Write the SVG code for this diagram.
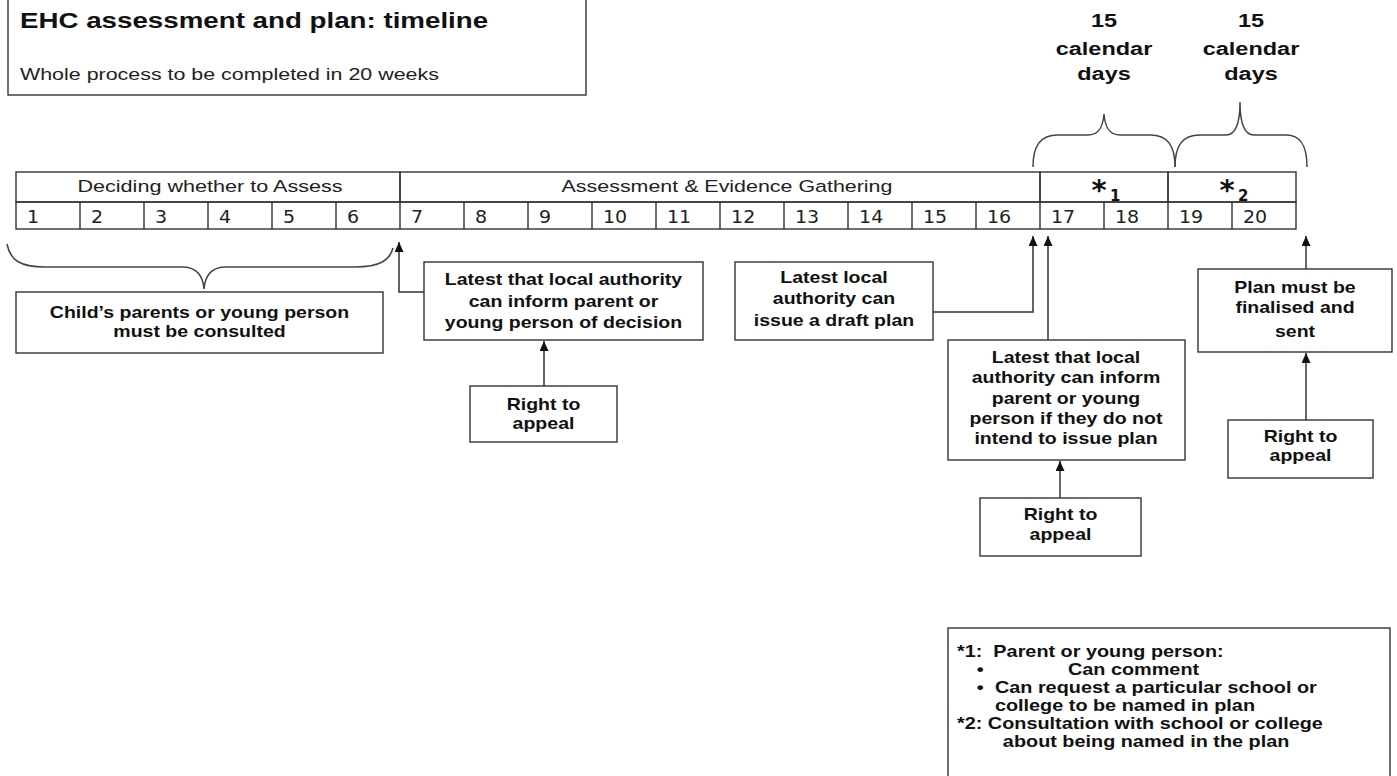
<svg xmlns="http://www.w3.org/2000/svg" width="1397" height="776" viewBox="0 0 1397 776">
<style>
.box{fill:#fff;stroke:#333;stroke-width:1.4}
.cell{fill:none;stroke:#333;stroke-width:1.4}
.bt{font-family:"Liberation Sans",Arial,sans-serif;font-weight:bold;font-size:16px;fill:#111;text-anchor:middle}
.lt{font-family:"Liberation Sans",Arial,sans-serif;font-weight:bold;font-size:16px;fill:#111}
.hd{font-family:"Liberation Sans",Arial,sans-serif;font-size:17px;fill:#222;text-anchor:middle}
.num{font-family:"DejaVu Sans",Verdana,sans-serif;font-size:17px;fill:#222}
.star{font-family:"DejaVu Sans",Verdana,sans-serif;font-weight:bold;fill:#111}
.top{font-family:"Liberation Sans",Arial,sans-serif;font-weight:bold;font-size:18.5px;fill:#111;text-anchor:middle}
.conn{fill:none;stroke:#333;stroke-width:1.5}
.brace{fill:none;stroke:#444;stroke-width:1.5}
</style>
<defs>
<marker id="ah" markerWidth="10" markerHeight="10" refX="10" refY="4.5" orient="auto" markerUnits="userSpaceOnUse">
<path d="M0,0 L10,4.5 L0,9 z" fill="#111"/>
</marker>
</defs>
<rect x="0" y="0" width="1397" height="776" fill="#fff"/>

<g id="title">
<rect class="box" x="8" y="-1" width="578" height="96"/>
<g transform="translate(20,0) scale(1.26,1)">
<text x="0" y="28" font-family="Liberation Sans, Arial, sans-serif" font-weight="bold" font-size="22" fill="#111">EHC assessment and plan: timeline</text>
<text x="0" y="80" font-family="Liberation Sans, Arial, sans-serif" font-size="17" fill="#222">Whole process to be completed in 20 weeks</text>
</g>
</g>

<g id="timeline">
<rect class="cell" x="16" y="172" width="384" height="30"/>
<rect class="cell" x="400" y="172" width="640" height="30"/>
<rect class="cell" x="1040" y="172" width="128" height="30"/>
<rect class="cell" x="1168" y="172" width="128" height="30"/>
<rect class="cell" x="16" y="202" width="1280" height="27"/>
<path class="cell" d="M80,202V229M144,202V229M208,202V229M272,202V229M336,202V229M400,202V229M464,202V229M528,202V229M592,202V229M656,202V229M720,202V229M784,202V229M848,202V229M912,202V229M976,202V229M1040,202V229M1104,202V229M1168,202V229M1232,202V229"/>
<g transform="translate(210,0) scale(1.27,1)"><text class="hd" x="0" y="192">Deciding whether to Assess</text></g>
<g transform="translate(727,0) scale(1.26,1)"><text class="hd" x="0" y="192">Assessment &amp; Evidence Gathering</text></g>
<text class="star" x="1099" y="200" font-size="29" text-anchor="middle">*</text>
<text class="star" x="1110" y="201" font-size="15">1</text>
<text class="star" x="1227" y="200" font-size="29" text-anchor="middle">*</text>
<text class="star" x="1238" y="201" font-size="15">2</text>
<g transform="scale(1.12,1)">
<text class="num" x="24.1" y="223">1</text>
<text class="num" x="81.25" y="223">2</text>
<text class="num" x="138.4" y="223">3</text>
<text class="num" x="195.5" y="223">4</text>
<text class="num" x="252.7" y="223">5</text>
<text class="num" x="309.8" y="223">6</text>
<text class="num" x="367" y="223">7</text>
<text class="num" x="424.1" y="223">8</text>
<text class="num" x="481.25" y="223">9</text>
<text class="num" x="538.4" y="223">10</text>
<text class="num" x="595.5" y="223">11</text>
<text class="num" x="652.7" y="223">12</text>
<text class="num" x="709.8" y="223">13</text>
<text class="num" x="767" y="223">14</text>
<text class="num" x="824.1" y="223">15</text>
<text class="num" x="881.25" y="223">16</text>
<text class="num" x="938.4" y="223">17</text>
<text class="num" x="995.5" y="223">18</text>
<text class="num" x="1052.7" y="223">19</text>
<text class="num" x="1109.8" y="223">20</text>
</g>
</g>

<g id="braces">
<path class="brace" d="M1033,167 C1033,146 1040,135 1058,135 L1088,135 C1099,135 1103,127 1104,114 C1105,127 1109,135 1120,135 L1150,135 C1168,135 1175,146 1175,167"/>
<path class="brace" d="M1175,167 C1175,146 1182,135 1200,135 L1226,135 C1236,135 1240,124 1240,102 C1240,124 1244,135 1254,135 L1286,135 C1301,135 1307,146 1307,167"/>
<path class="brace" d="M7,244 C10,260 20,267 45,267 L182,267 C197,267 203,276 204,289 C205,276 211,267 226,267 L355,267 C380,267 390,260 393,248"/>
</g>

<g id="label-days1" transform="translate(1104,0) scale(1.27,1)">
<text class="top" x="0" y="27">15</text>
<text class="top" x="0" y="55">calendar</text>
<text class="top" x="0" y="80">days</text>
</g>
<g id="label-days2" transform="translate(1251,0) scale(1.27,1)">
<text class="top" x="0" y="27">15</text>
<text class="top" x="0" y="55">calendar</text>
<text class="top" x="0" y="80">days</text>
</g>

<g id="consult">
<rect class="box" x="16" y="292" width="367" height="61"/>
<g transform="translate(199.5,0) scale(1.22,1)">
<text class="bt" x="0" y="318">Child’s parents or young person</text>
<text class="bt" x="0" y="337">must be consulted</text>
</g>
</g>

<g id="decision">
<rect class="box" x="424" y="262" width="279" height="78"/>
<g transform="translate(563.5,0) scale(1.22,1)">
<text class="bt" x="0" y="285">Latest that local authority</text>
<text class="bt" x="0" y="307">can inform parent or</text>
<text class="bt" x="0" y="328">young person of decision</text>
</g>
</g>

<g id="appeal1">
<rect class="box" x="470" y="386" width="147" height="56"/>
<g transform="translate(543.5,0) scale(1.22,1)">
<text class="bt" x="0" y="410">Right to</text>
<text class="bt" x="0" y="429">appeal</text>
</g>
</g>

<g id="draft">
<rect class="box" x="735" y="262" width="198" height="78"/>
<g transform="translate(834,0) scale(1.22,1)">
<text class="bt" x="0" y="283">Latest local</text>
<text class="bt" x="0" y="304">authority can</text>
<text class="bt" x="0" y="326">issue a draft plan</text>
</g>
</g>

<g id="noissue">
<rect class="box" x="948" y="340" width="237" height="120"/>
<g transform="translate(1066,0) scale(1.22,1)">
<text class="bt" x="0" y="363">Latest that local</text>
<text class="bt" x="0" y="383">authority can inform</text>
<text class="bt" x="0" y="404">parent or young</text>
<text class="bt" x="0" y="424">person if they do not</text>
<text class="bt" x="0" y="444">intend to issue plan</text>
</g>
</g>

<g id="appeal2">
<rect class="box" x="980" y="498" width="161" height="58"/>
<g transform="translate(1060.5,0) scale(1.22,1)">
<text class="bt" x="0" y="520">Right to</text>
<text class="bt" x="0" y="540">appeal</text>
</g>
</g>

<g id="final">
<rect class="box" x="1198" y="269" width="194" height="83"/>
<g transform="translate(1295,0) scale(1.22,1)">
<text class="bt" x="0" y="293">Plan must be</text>
<text class="bt" x="0" y="313">finalised and</text>
<text class="bt" x="0" y="337">sent</text>
</g>
</g>

<g id="appeal3">
<rect class="box" x="1228" y="420" width="145" height="58"/>
<g transform="translate(1300.5,0) scale(1.22,1)">
<text class="bt" x="0" y="442">Right to</text>
<text class="bt" x="0" y="461">appeal</text>
</g>
</g>

<g id="legend">
<rect class="box" x="948" y="628" width="442" height="160"/>
<g transform="translate(957,0) scale(1.24,1)">
<text class="lt" x="0" y="657" xml:space="preserve">*1:  Parent or young person:</text>
<text class="lt" x="16" y="675">•</text>
<text class="lt" x="89.5" y="675">Can comment</text>
<text class="lt" x="16" y="693">•</text>
<text class="lt" x="30.6" y="693">Can request a particular school or</text>
<text class="lt" x="30.6" y="711">college to be named in plan</text>
<text class="lt" x="0" y="729">*2: Consultation with school or college</text>
<text class="lt" x="37" y="747">about being named in the plan</text>
</g>
</g>

<g id="connectors">
<path class="conn" d="M424,292 H399 V242" marker-end="url(#ah)"/>
<path class="conn" d="M544,386 V341" marker-end="url(#ah)"/>
<path class="conn" d="M933,312 H1033 V236" marker-end="url(#ah)"/>
<path class="conn" d="M1048,340 V236" marker-end="url(#ah)"/>
<path class="conn" d="M1060,498 V461" marker-end="url(#ah)"/>
<path class="conn" d="M1306,269 V236" marker-end="url(#ah)"/>
<path class="conn" d="M1306,420 V353" marker-end="url(#ah)"/>
</g>
</svg>
